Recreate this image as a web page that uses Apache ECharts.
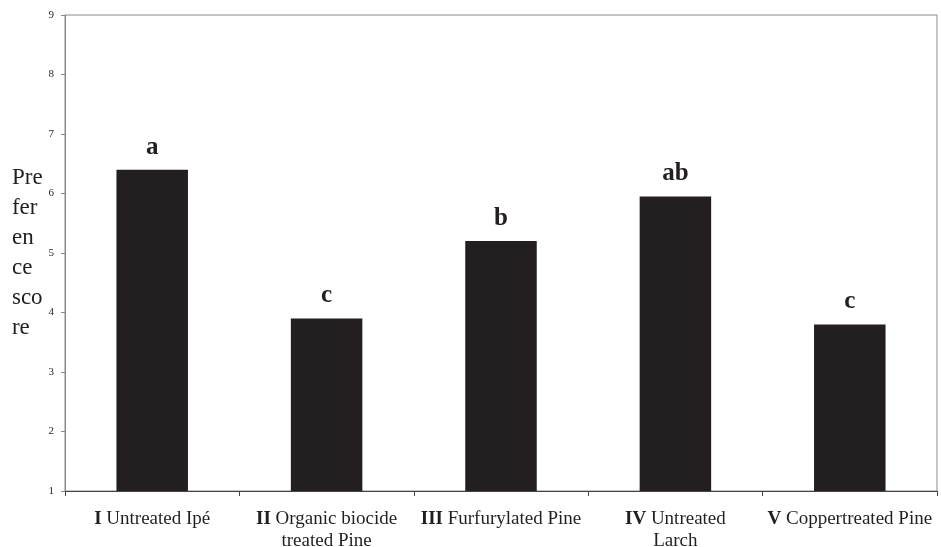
<!DOCTYPE html>
<html><head><meta charset="utf-8">
<script src="https://cdn.jsdelivr.net/npm/echarts@6/dist/echarts.min.js"></script>
<style>html,body{margin:0;padding:0;background:#fff}#c{width:941px;height:547px}</style>
</head><body><div id="c"></div>
<script>
const numerals = ['I', 'II', 'III', 'IV', 'V'];
const categories = ['Untreated Ipé', 'Organic biocide\ntreated Pine', 'Furfurylated Pine', 'Untreated\nLarch', 'Coppertreated Pine'];
const scores = [6.4, 3.9, 5.2, 5.95, 3.8];
const groups = ['a', 'c', 'b', 'ab', 'c'];
const yTicks = [1, 2, 3, 4, 5, 6, 7, 8, 9];

const font = 'Liberation Serif, Times New Roman, serif';
const chart = echarts.init(document.getElementById('c'));
chart.setOption({
  animation: false,
  backgroundColor: '#fff',
  grid: { left: 65, right: 4, top: 15, bottom: 56, containLabel: false, outerBoundsMode: 'none',
          show: true, borderColor: '#8a8a8a', borderWidth: 1 },
  xAxis: {
    type: 'category',
    data: categories.map((c, i) => numerals[i] + '|' + c),
    axisLine: { lineStyle: { color: '#444', width: 1 } },
    axisTick: { show: true, length: 5, alignWithLabel: false, lineStyle: { color: '#444' } },
    axisLabel: {
      interval: 0, margin: 17, color: '#231f20', fontFamily: font, fontSize: 19, lineHeight: 22,
      formatter: v => {
        const p = v.split('|');
        const lines = p[1].split('\n');
        return '{b|' + p[0] + '} ' + lines[0] + (lines[1] ? '\n' + lines[1] : '');
      },
      rich: { b: { fontWeight: 'bold', fontFamily: font, fontSize: 19, lineHeight: 22, color: '#231f20' } }
    }
  },
  yAxis: {
    type: 'value', min: yTicks[0], max: yTicks[yTicks.length - 1], interval: 1,
    splitLine: { show: false },
    axisLine: { show: true, lineStyle: { color: '#8a8a8a' } },
    axisTick: { show: true, length: 4, lineStyle: { color: '#8a8a8a' } },
    axisLabel: { color: '#231f20', fontFamily: font, fontSize: 11, margin: 11 },
    name: 'Pre\nfer\nen\nce\nsco\nre',
    nameLocation: 'middle', nameRotate: 0, nameGap: 53,
    nameTextStyle: { fontFamily: font, fontSize: 23, lineHeight: 30, color: '#231f20', align: 'left', padding: [0, 0, 8, 0] }
  },
  series: [{
    type: 'bar',
    data: scores,
    barWidth: '41%',
    itemStyle: { color: '#231f20' },
    label: {
      show: true, position: 'top', distance: 10,
      formatter: p => groups[p.dataIndex],
      fontFamily: font, fontWeight: 'bold', fontSize: 25, color: '#231f20'
    }
  }]
});
</script></body></html>
